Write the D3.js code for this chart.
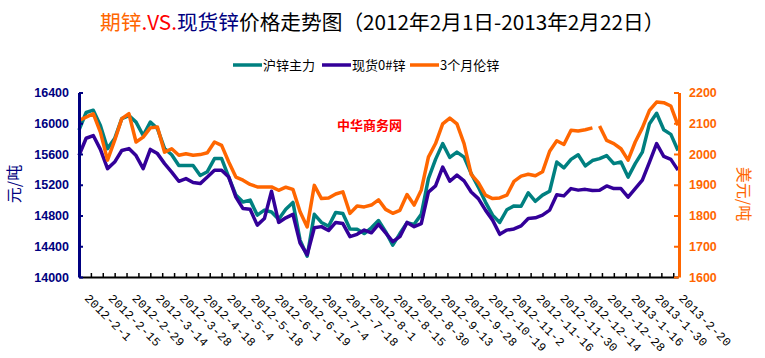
<!DOCTYPE html>
<html><head><meta charset="utf-8">
<script src="https://cdn.jsdelivr.net/npm/d3@7"></script>
<style>body{margin:0;background:#fff;} svg{display:block;}</style>
</head><body>
<svg id="c" width="765" height="358"></svg>
<script>
// ---- data ----
const dateLabels = ["2012-2-1","2012-2-15","2012-2-29","2012-3-14","2012-3-28","2012-4-18","2012-5-4","2012-5-18","2012-6-1","2012-6-19","2012-7-4","2012-7-18","2012-8-1","2012-8-15","2012-8-30","2012-9-13","2012-9-28","2012-10-19","2012-11-2","2012-11-16","2012-11-30","2012-12-14","2012-12-28","2013-1-16","2013-1-30","2013-2-20"];
const totalDays = 252, sampleStep = 3, labelEvery = 10, tickEvery = 5;
const seriesNames = ["沪锌主力","现货0#锌","3个月伦锌"];
// 沪锌主力 (元/吨)
const shfe = [15910,16140,16170,15970,15670,15800,16060,16100,16015,15840,16015,15930,15670,15590,15450,15450,15450,15320,15370,15540,15540,
15300,15065,14975,15000,14805,14870,14845,14750,14880,14970,14480,14270,14815,14710,14660,14840,14825,14625,14620,14565,14640,
14735,14590,14415,14565,14705,14685,14815,15280,15530,15735,15555,15625,15560,15345,15170,14975,14805,14710,14875,14925,14920,
15095,14985,15065,15115,15495,15420,15530,15590,15445,15515,15540,15580,15475,15495,15300,15475,15625,15995,16130,15915,15855,15645];
// 现货0#锌 (元/吨)
const spot = [15580,15805,15840,15660,15410,15495,15645,15670,15580,15410,15660,15605,15475,15365,15245,15280,15230,15215,15300,15390,15390,
15300,15040,14890,14880,14675,14760,15115,14710,14770,14815,14440,14290,14640,14655,14605,14710,14695,14525,14555,14610,14575,
14685,14575,14460,14525,14710,14655,14695,15105,15185,15430,15245,15325,15250,15105,15020,14870,14740,14555,14610,14625,14665,
14760,14770,14805,14870,15070,15055,15150,15130,15140,15125,15130,15185,15150,15150,15040,15150,15260,15495,15735,15570,15530,15390];
// 3个月伦锌 (美元/吨)
const lme = [2109,2120,2131,2071,1980,2044,2115,2131,2039,2055,2085,2088,2006,2017,1996,2001,1996,1998,2004,2039,2028,
1974,1925,1915,1901,1893,1893,1893,1882,1892,1885,1812,1763,1898,1855,1857,1870,1877,1807,1831,1828,1834,
1851,1820,1807,1817,1868,1834,1883,1990,2034,2098,2117,2098,2034,1934,1907,1866,1855,1857,1866,1911,1928,
1934,1929,1942,2009,2043,2031,2077,2075,2079,2085,2091,2044,2034,2017,1980,2039,2085,2142,2169,2167,2156,2093];
const lmeBreakAfter = [72]; // LME holiday gap
const leftTicks = [14000,14400,14800,15200,15600,16000,16400];
const rightTicks = [1600,1700,1800,1900,2000,2100,2200];

// ---- layout ----
const svg = d3.select("#c");
const X0 = 79, X1 = 678, YT = 92.5, YB = 277;
const colors = ["#008080","#330099","#FF6600"];
const navy = "#000080";
const xDay = d3.scaleLinear().domain([0,totalDays]).range([X0,X1]);
const yL = d3.scaleLinear().domain([14000,16400]).range([YB,YT]);
const yR = d3.scaleLinear().domain([1600,2200]).range([YB,YT]);

svg.append("rect").attr("width",765).attr("height",358).attr("fill","#fff");

// title
const title = svg.append("text").attr("x",100).attr("y",30)
  .attr("font-family","'Noto Sans CJK SC'").attr("font-size",20.7);
[["期锌","#FF6600"],[".VS.","#FF0000"],["现货锌",navy],["价格走势图（2012年2月1日-2013年2月22日）","#000"]]
  .forEach(([t,c])=>title.append("tspan").attr("fill",c).text(t));

// legend
const legX = [233,322,410];
seriesNames.forEach((n,i)=>{
  svg.append("line").attr("x1",legX[i]).attr("x2",legX[i]+29).attr("y1",65).attr("y2",65)
    .attr("stroke",colors[i]).attr("stroke-width",3.5);
  svg.append("text").attr("x",legX[i]+30).attr("y",70)
    .attr("font-family","'Noto Sans CJK SC'").attr("font-size",13).attr("fill","#000").text(n);
});

// watermark
svg.append("text").attr("x",337).attr("y",130).attr("font-family","'Noto Sans CJK SC'")
  .attr("font-weight","bold").attr("font-size",13).attr("fill","#FF0000").text("中华商务网");

// series
function pts(arr, breaks){
  const out = [];
  arr.forEach((v,k)=>{
    out.push({d:k*sampleStep, v});
    if (breaks && breaks.includes(k)) out.push({d:k*sampleStep+1, v:null});
  });
  return out;
}
const lineL = d3.line().defined(p=>p.v!=null).x(p=>xDay(p.d)).y(p=>yL(p.v));
const lineR = d3.line().defined(p=>p.v!=null).x(p=>xDay(p.d)).y(p=>yR(p.v));
[[shfe,lineL,0,null],[spot,lineL,1,null],[lme,lineR,2,lmeBreakAfter]].forEach(([arr,ln,ci,br])=>{
  svg.append("path").attr("d",ln(pts(arr,br))).attr("fill","none")
    .attr("stroke",colors[ci]).attr("stroke-width",3.5).attr("stroke-linejoin","round");
});

// x axis
const xTicks = d3.range(0,totalDays+1,tickEvery);
const gx = svg.append("g").attr("transform",`translate(0,${YB})`)
  .call(d3.axisBottom(xDay).tickValues(xTicks).tickSizeInner(-4).tickSizeOuter(0).tickFormat(""));
gx.select(".domain").attr("stroke","#000").attr("stroke-width",2);
gx.selectAll(".tick line").attr("stroke","#000").attr("stroke-width",1.5);
svg.append("g").selectAll("text").data(dateLabels).join("text")
  .attr("transform",(d,i)=>`translate(${xDay(i*labelEvery)+5},299) rotate(45)`)
  .attr("font-family","'Liberation Mono', monospace").attr("font-size",12)
  .attr("letter-spacing","0.4px").attr("fill","#000").text(d=>d);

// left axis
const fmt = d3.format("d");
const gl = svg.append("g").attr("transform",`translate(${X0},0)`)
  .call(d3.axisLeft(yL).tickValues(leftTicks).tickFormat(fmt).tickSizeInner(-4).tickSizeOuter(0).tickPadding(10));
gl.select(".domain").attr("stroke",navy).attr("stroke-width",3);
gl.selectAll(".tick line").attr("stroke",navy).attr("stroke-width",2);
gl.selectAll(".tick text").attr("font-family","'Liberation Sans', Arial").attr("font-weight","bold")
  .attr("font-size",12.5).attr("fill",navy);

// right axis
const gr = svg.append("g").attr("transform",`translate(${X1+1},0)`)
  .call(d3.axisRight(yR).tickValues(rightTicks).tickFormat(fmt).tickSizeInner(-5).tickSizeOuter(0).tickPadding(10));
gr.select(".domain").attr("stroke","#FF6600").attr("stroke-width",3);
gr.selectAll(".tick line").attr("stroke","#FF6600").attr("stroke-width",2);
gr.selectAll(".tick text").attr("font-family","'Liberation Sans', Arial").attr("font-weight","bold")
  .attr("font-size",12.5).attr("fill","#FF6600");

// axis titles
svg.append("text").attr("transform","translate(20,184) rotate(-90)").attr("text-anchor","middle")
  .attr("font-family","'Noto Sans CJK SC'").attr("font-size",16).attr("fill",navy).text("元/吨");
svg.append("text").attr("transform","translate(738,194) rotate(90)").attr("text-anchor","middle")
  .attr("font-family","'Noto Sans CJK SC'").attr("font-size",16).attr("fill","#FF6600").text("美元/吨");
</script>
</body></html>
